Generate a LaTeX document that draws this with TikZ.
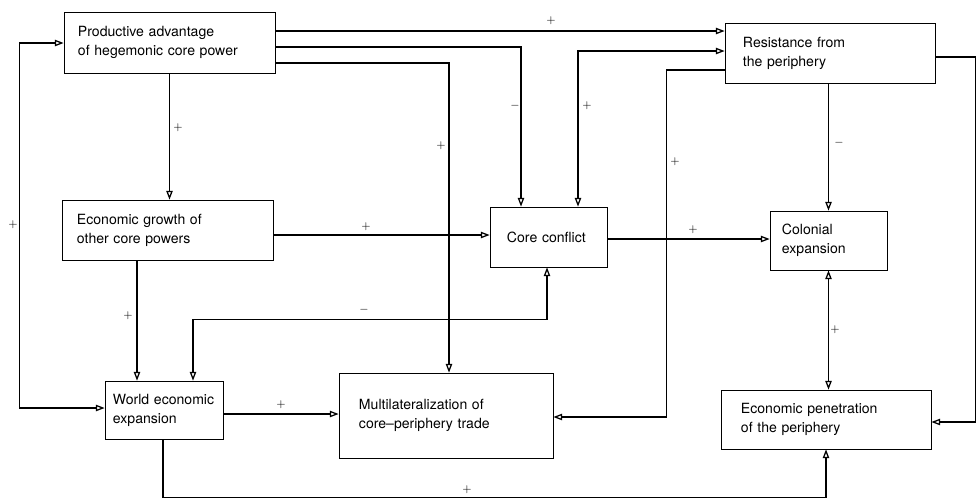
\documentclass[tikz,border=0pt]{standalone}
\usepackage{fontspec}
\setmainfont{TeX Gyre Heros}
\usepackage{tikz}
\usetikzlibrary{arrows.meta}

\begin{document}
\begin{tikzpicture}[x=0.025cm, y=-0.025cm, >={Triangle[open,length=2.2mm,width=1.6mm]}]
	 \tikzstyle{box}=[draw, line width=0.5pt, align=left, inner ysep=0pt, font=\fontsize{10}{13.5}\selectfont]
	 \tikzstyle{link}=[draw, line width=0.9pt, black, ->]
	 \tikzstyle{twoway}=[draw, line width=0.9pt, black, <->]
	 \tikzstyle{sign}=[font=\footnotesize, inner sep=1pt]

	 \useasboundingbox (0,0) rectangle (980,502);

	 % boxes
	 \node[box, minimum height=1.525cm, text width=4.575cm, inner xsep=0.35cm] (P) at (169.5,42.5) {Productive advantage\\of hegemonic core power};
	 \node[box, minimum height=1.5cm, text width=4.35cm, inner xsep=0.45cm] (R) at (830,53) {Resistance from\\the periphery};
	 \node[box, minimum height=1.5cm, text width=4.525cm, inner xsep=0.375cm] (G) at (167.5,230) {Economic growth of\\other core powers};
	 \node[box, minimum height=1.5cm, text width=2.075cm, inner xsep=0.425cm] (C) at (548.5,237) {Core conflict};
	 \node[box, minimum height=1.475cm, text width=2.325cm, inner xsep=0.3cm] (Col) at (828.5,240.5) {Colonial\\expansion};
	 \node[box, minimum height=1.45cm, text width=2.55cm, inner xsep=0.2cm] (W) at (164,410) {World economic\\expansion};
	 \node[box, minimum height=2.125cm, text width=4.35cm, inner xsep=0.5cm] (M) at (446,415.5) {Multilateralization of\\core--periphery trade};
	 \node[box, minimum height=1.475cm, text width=4.25cm, inner xsep=0.5cm] (E) at (826,419.5) {Economic penetration\\of the periphery};

	 % connectors
	 \draw[link] (P.east |- 0,31) -- (R.west |- 0,31);
	 \draw[link] (P.east |- 0,47) -| (C.north -| 521,0);
	 \draw[link] (P.east |- 0,63) -| (M.north -| 449,0);
	 \draw[twoway] (C.north -| 578,0) |- (R.west |- 0,51);
	 \draw[link] (R.west |- 0,70) -- ++(-58,0) |- (M.east |- 0,417);
	 \draw[link] (R.south -| Col.north) -- (Col.north);
	 \draw[link] (R.east |- 0,57) -- ++(40,0) |- (E.east |- 0,422);
	 \draw[link] (P.south) -- (P.south |- G.north);
	 \draw[link] (G.east |- 0,235) -- (C.west |- 0,235);
	 \draw[link] (C.east |- 0,239) -- (Col.west |- 0,239);
	 \draw[link] (G.south -| 137,0) -- (W.north -| 137,0);
	 \draw[twoway] (W.north -| 193,0) -- ++(0,-61) -| (C.south -| 547,0);
	 \draw[twoway] (P.west |- 0,43) -- ++(-44,0) |- (W.west |- 0,408);
	 \draw[link] (W.east |- 0,414) -- (M.west |- 0,414);
	 \draw[link] (W.south -| 163,0) -- ++(0,58) -| (E.south);
	 \draw[twoway] (Col.south) -- (Col.south |- E.north);

	 % signs
	 \node[sign] (s1) at (551,21) {$+$};
	 \node[sign] (s2) at (515,106) {$-$};
	 \node[sign] (s3) at (587,106) {$+$};
	 \node[sign] (s4) at (441,146) {$+$};
	 \node[sign] (s5) at (675,162) {$+$};
	 \node[sign] (s6) at (839,143) {$-$};
	 \node[sign] (s7) at (178,128) {$+$};
	 \node[sign] (s8) at (366,227) {$+$};
	 \node[sign] (s9) at (693,230) {$+$};
	 \node[sign] (s10) at (128,316) {$+$};
	 \node[sign] (s11) at (364,310) {$-$};
	 \node[sign] (s12) at (13,225) {$+$};
	 \node[sign] (s13) at (281,405) {$+$};
	 \node[sign] (s14) at (467,490) {$+$};
	 \node[sign] (s15) at (835,330) {$+$};
\end{tikzpicture}
\end{document}
